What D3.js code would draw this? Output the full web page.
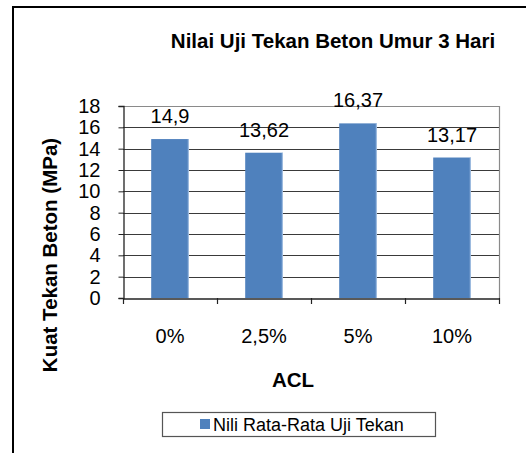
<!DOCTYPE html>
<html><head><meta charset="utf-8">
<script src="https://cdn.jsdelivr.net/npm/d3@7"></script>
<style>html,body{margin:0;padding:0;background:#fff;}svg{display:block;font-family:"Liberation Sans",Arial,sans-serif;}</style>
</head><body>
<script>
const categories = ["0%", "2,5%", "5%", "10%"];
const values = [14.9, 13.62, 16.37, 13.17];
const valueLabels = ["14,9", "13,62", "16,37", "13,17"];
const yTicks = [0, 2, 4, 6, 8, 10, 12, 14, 16, 18];
const chartTitle = "Nilai Uji Tekan Beton Umur 3 Hari";
const yTitle = "Kuat Tekan Beton (MPa)";
const xTitle = "ACL";
const seriesName = "Nili Rata-Rata Uji Tekan";

const W = 526, H = 453;
const svg = d3.select("body").append("svg").attr("width", W).attr("height", H);

// outer chart border (only left and top visible)
svg.append("rect").attr("x", 13).attr("y", 7).attr("width", 600).attr("height", 600)
  .attr("fill", "none").attr("stroke", "#000").attr("stroke-width", 2);

const pL = 123, pR = 499, pT = 106, pB = 298;
const x = d3.scaleBand().domain(categories).range([pL, pR]).paddingInner(0.6).paddingOuter(0.3);
const xb = d3.scaleBand().domain(categories).range([pL, pR]);
const y = d3.scaleLinear().domain([0, 18]).range([pB, pT]);

// gridlines
svg.append("g").selectAll("line").data(yTicks.filter(t => t > 0 && t < 18)).join("line")
  .attr("x1", pL).attr("x2", pR)
  .attr("y1", d => Math.round(y(d)) + 0.5).attr("y2", d => Math.round(y(d)) + 0.5)
  .attr("stroke", "#3a3a3a").attr("stroke-width", 1);
// plot area border top/right
svg.append("path").attr("d", `M${pL},${pT + 0.5}H${pR + 0.5}V${pB}`)
  .attr("fill", "none").attr("stroke", "#8a8a8a").attr("stroke-width", 1.2);

// bars
const bars = svg.append("g");
bars.selectAll("rect").data(values).join("rect")
  .attr("x", (d, i) => x(categories[i]))
  .attr("width", x.bandwidth())
  .attr("y", d => y(d))
  .attr("height", d => pB - y(d))
  .attr("fill", "#4F81BD");
bars.selectAll("line").data(values).join("line")
  .attr("x1", (d, i) => x(categories[i]) + x.bandwidth() - 0.5)
  .attr("x2", (d, i) => x(categories[i]) + x.bandwidth() - 0.5)
  .attr("y1", d => y(d)).attr("y2", pB)
  .attr("stroke", "#a9c3e4").attr("stroke-width", 1);

// y axis
const yAxis = d3.axisLeft(y).tickValues(yTicks).tickSize(5).tickPadding(18).tickFormat(d3.format("d"));
const gy = svg.append("g").attr("transform", `translate(${pL + 0.5},0)`).call(yAxis);
gy.select(".domain").attr("stroke", "#222").attr("stroke-width", 1.3);
gy.selectAll(".tick line").attr("stroke", "#222");
gy.selectAll(".tick text").attr("font-size", 20).attr("fill", "#000").attr("font-family", "Liberation Sans, Arial, sans-serif");

// x axis
const xAxis = d3.axisBottom(xb).tickSize(0).tickPadding(30);
const gx = svg.append("g").attr("transform", `translate(0,${pB + 0.5})`).call(xAxis);
gx.select(".domain").attr("stroke", "#222").attr("stroke-width", 1.3);
gx.selectAll(".tick text").attr("font-size", 20).attr("fill", "#000").attr("font-family", "Liberation Sans, Arial, sans-serif");
// category boundary ticks
const bounds = [pL].concat(categories.map(c => xb(c) + xb.bandwidth()));
svg.append("g").selectAll("line").data(bounds).join("line")
  .attr("x1", d => Math.round(d) + 0.5).attr("x2", d => Math.round(d) + 0.5)
  .attr("y1", pB).attr("y2", pB + 6)
  .attr("stroke", "#222").attr("stroke-width", 1.2);

// value labels
svg.append("g").selectAll("text").data(values).join("text")
  .attr("x", (d, i) => x(categories[i]) + x.bandwidth() / 2)
  .attr("y", d => y(d) - 16)
  .attr("text-anchor", "middle").attr("font-size", 20).attr("fill", "#000")
  .text((d, i) => valueLabels[i]);

// titles
svg.append("text").attr("x", 333).attr("y", 48).attr("text-anchor", "middle")
  .attr("font-size", 20.5).attr("font-weight", "bold").text(chartTitle);
svg.append("text").attr("transform", "translate(57,255) rotate(-90)").attr("text-anchor", "middle")
  .attr("font-size", 20.5).attr("font-weight", "bold").text(yTitle);
svg.append("text").attr("x", 293).attr("y", 387).attr("text-anchor", "middle")
  .attr("font-size", 20.5).attr("font-weight", "bold").text(xTitle);

// legend
const lg = svg.append("g");
lg.append("rect").attr("x", 162.5).attr("y", 412.5).attr("width", 273).attr("height", 24)
  .attr("fill", "#fff").attr("stroke", "#555").attr("stroke-width", 1.2);
lg.append("rect").attr("x", 200).attr("y", 419).attr("width", 10).attr("height", 10).attr("fill", "#4F81BD");
lg.append("text").attr("x", 213).attr("y", 431).attr("font-size", 18).attr("fill", "#000").text(seriesName);
</script>
</body></html>
